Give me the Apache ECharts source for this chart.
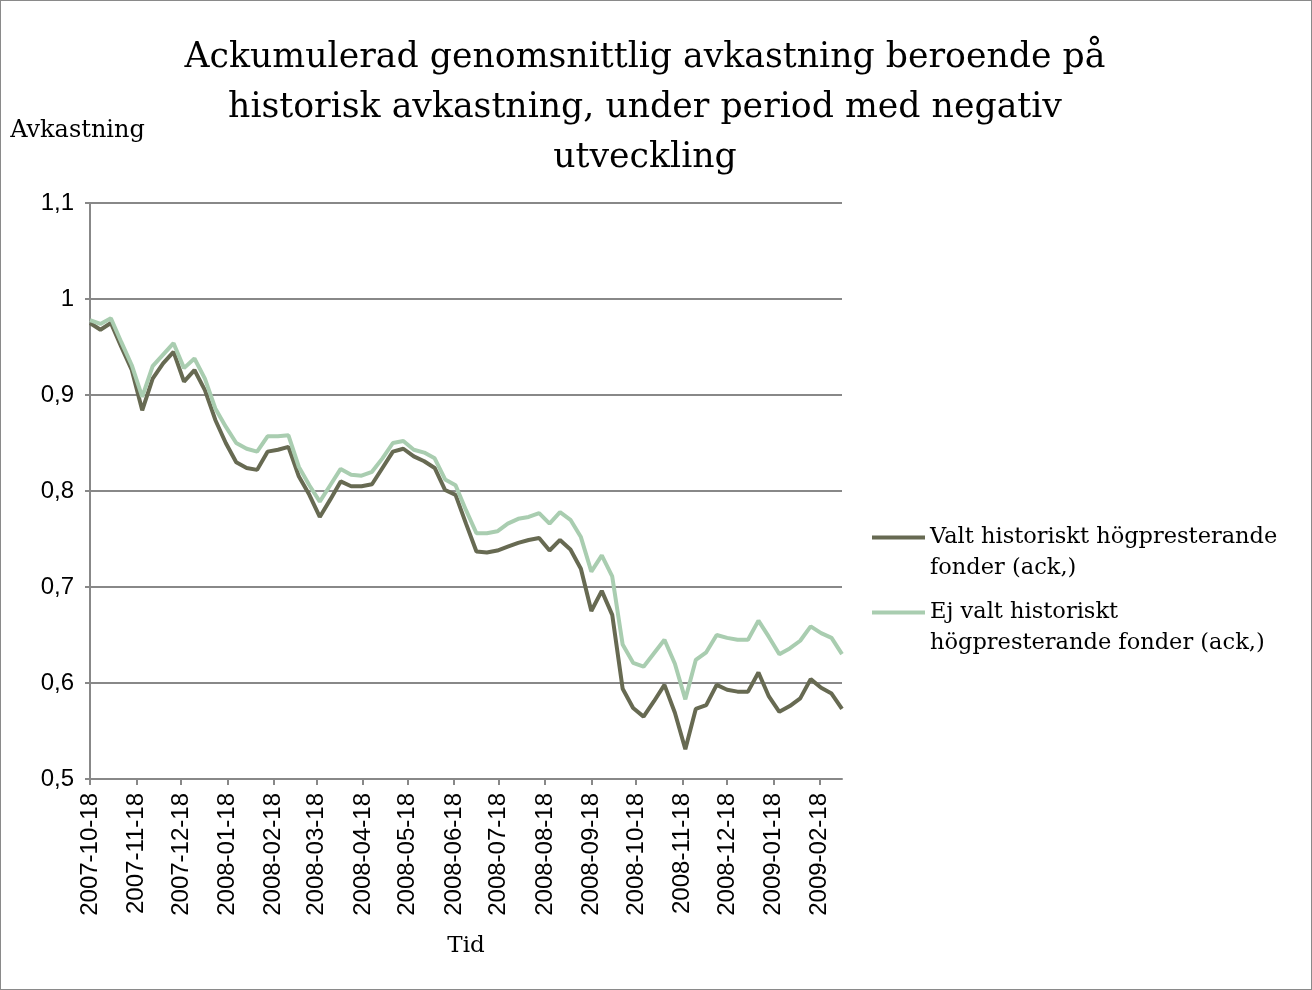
<!DOCTYPE html>
<html>
<head>
<meta charset="utf-8">
<title>Ackumulerad genomsnittlig avkastning</title>
<script src="https://cdn.jsdelivr.net/npm/echarts@6/dist/echarts.min.js"></script>
<style>
  html, body { margin: 0; padding: 0; background: #ffffff; }
  #chart { width: 1312px; height: 990px; box-sizing: border-box; border: 1px solid #8a8a8a; background: #ffffff; }
</style>
</head>
<body>
<div id="chart"></div>
<script>
// Weekly observation dates (Thursdays)
const dates = [
  '2007-10-18','2007-10-25','2007-11-01','2007-11-08','2007-11-15','2007-11-22','2007-11-29',
  '2007-12-06','2007-12-13','2007-12-20','2007-12-27',
  '2008-01-03','2008-01-10','2008-01-17','2008-01-24','2008-01-31',
  '2008-02-07','2008-02-14','2008-02-21','2008-02-28',
  '2008-03-06','2008-03-13','2008-03-20','2008-03-27',
  '2008-04-03','2008-04-10','2008-04-17','2008-04-24',
  '2008-05-01','2008-05-08','2008-05-15','2008-05-22','2008-05-29',
  '2008-06-05','2008-06-12','2008-06-19','2008-06-26',
  '2008-07-03','2008-07-10','2008-07-17','2008-07-24','2008-07-31',
  '2008-08-07','2008-08-14','2008-08-21','2008-08-28',
  '2008-09-04','2008-09-11','2008-09-18','2008-09-25',
  '2008-10-02','2008-10-09','2008-10-16','2008-10-23','2008-10-30',
  '2008-11-06','2008-11-13','2008-11-20','2008-11-27',
  '2008-12-04','2008-12-11','2008-12-18','2008-12-25',
  '2009-01-01','2009-01-08','2009-01-15','2009-01-22','2009-01-29',
  '2009-02-05','2009-02-12','2009-02-19','2009-02-26',
  '2009-03-05'
];

// Accumulated average return, funds chosen as historically high performing
const valtHog = [
  0.975, 0.968, 0.975, 0.950, 0.926, 0.884, 0.917, 0.933, 0.945, 0.914, 0.926,
  0.905, 0.874, 0.850, 0.830, 0.824, 0.822, 0.841, 0.843, 0.846,
  0.815, 0.796, 0.773, 0.791, 0.810, 0.805, 0.805, 0.807,
  0.824, 0.841, 0.844, 0.836, 0.831, 0.824, 0.801, 0.796, 0.766,
  0.737, 0.736, 0.738, 0.742, 0.746, 0.749, 0.751, 0.738, 0.749,
  0.739, 0.719, 0.675, 0.696, 0.671, 0.594, 0.574, 0.565, 0.581,
  0.598, 0.569, 0.531, 0.573, 0.577, 0.598, 0.593, 0.591,
  0.591, 0.611, 0.586, 0.570, 0.576, 0.584, 0.604, 0.595, 0.589,
  0.573
];

// Accumulated average return, funds not chosen as historically high performing
const ejValtHog = [
  0.978, 0.974, 0.980, 0.955, 0.931, 0.898, 0.930, 0.942, 0.954, 0.928, 0.938,
  0.917, 0.886, 0.867, 0.850, 0.844, 0.841, 0.857, 0.857, 0.858,
  0.825, 0.806, 0.789, 0.806, 0.823, 0.817, 0.816, 0.820,
  0.834, 0.850, 0.852, 0.843, 0.840, 0.834, 0.812, 0.806, 0.780,
  0.756, 0.756, 0.758, 0.766, 0.771, 0.773, 0.777, 0.766, 0.778,
  0.770, 0.752, 0.716, 0.733, 0.711, 0.640, 0.621, 0.617, 0.631,
  0.645, 0.620, 0.583, 0.624, 0.632, 0.650, 0.647, 0.645,
  0.645, 0.665, 0.648, 0.630, 0.636, 0.644, 0.659, 0.652, 0.647,
  0.630
];

// Monthly tick labels on the date axis
const tickLabels = [
  '2007-10-18','2007-11-18','2007-12-18','2008-01-18','2008-02-18','2008-03-18',
  '2008-04-18','2008-05-18','2008-06-18','2008-07-18','2008-08-18','2008-09-18',
  '2008-10-18','2008-11-18','2008-12-18','2009-01-18','2009-02-18'
];

const seriesNames = [
  'Valt historiskt högpresterande\nfonder (ack,)',
  'Ej valt historiskt\nhögpresterande fonder (ack,)'
];

// The x axis counts whole days from the first observation date
const DAY = 86400000;
function dayNumber(s) {
  const p = s.split('-').map(Number);
  return Math.round(Date.UTC(p[0], p[1] - 1, p[2]) / DAY);
}
const day0 = dayNumber(dates[0]);
function dayOffset(s) { return dayNumber(s) - day0; }

const tickDays = tickLabels.map(dayOffset);
const labelByDay = {};
tickLabels.forEach(function (s, i) { labelByDay[tickDays[i]] = s; });

function pairs(values) {
  return dates.map(function (d, i) { return [dayOffset(d), values[i]]; });
}

const gridColor = '#888888';
const serif = '"DejaVu Serif", "Liberation Serif", serif';
const sans = '"Liberation Sans", Arial, sans-serif';

const chart = echarts.init(document.getElementById('chart'), null, { renderer: 'canvas' });

chart.setOption({
  animation: false,
  backgroundColor: '#ffffff',
  title: {
    text: 'Ackumulerad genomsnittlig avkastning beroende på\nhistorisk avkastning, under period med negativ\nutveckling',
    left: 644,
    top: 32,
    padding: 0,
    textAlign: 'center',
    textStyle: {
      fontFamily: serif,
      fontWeight: 'normal',
      fontSize: 34.7,
      lineHeight: 50,
      color: '#000000'
    }
  },
  legend: {
    orient: 'vertical',
    left: 871,
    top: 490,
    padding: 0,
    itemGap: -18,
    itemWidth: 53,
    itemHeight: 4,
    icon: 'rect',
    selectedMode: false,
    // a blank first line keeps the marker level with the first text line
    formatter: function (name) { return ' \n' + name; },
    textStyle: {
      fontFamily: serif,
      fontSize: 22.5,
      lineHeight: 31,
      color: '#000000'
    },
    data: seriesNames
  },
  grid: {
    left: 89,
    top: 202,
    right: 469,
    bottom: 210,
    containLabel: false
  },
  xAxis: {
    type: 'value',
    min: 0,
    max: dayOffset(dates[dates.length - 1]),
    name: 'Tid',
    nameLocation: 'middle',
    nameGap: 156,
    nameTextStyle: { fontFamily: serif, fontSize: 23, color: '#000000' },
    axisLine: { show: true, lineStyle: { color: gridColor, width: 2 } },
    axisTick: {
      show: true,
      customValues: tickDays,
      length: 6,
      inside: false,
      lineStyle: { color: gridColor, width: 2 }
    },
    axisLabel: {
      customValues: tickDays,
      rotate: 90,
      margin: 14,
      fontFamily: sans,
      fontSize: 24,
      color: '#000000',
      hideOverlap: false,
      showMinLabel: true,
      showMaxLabel: true,
      formatter: function (v) { return labelByDay[v] || ''; }
    },
    splitLine: { show: false }
  },
  yAxis: {
    type: 'value',
    min: 0.5,
    max: 1.1,
    interval: 0.1,
    name: 'Avkastning',
    nameLocation: 'end',
    nameGap: 60,
    nameTextStyle: {
      fontFamily: serif,
      fontSize: 24,
      color: '#000000',
      align: 'center',
      padding: [0, 25, 0, 0]
    },
    axisLine: { show: true, lineStyle: { color: gridColor, width: 2 } },
    axisTick: { show: true, length: 5, lineStyle: { color: gridColor, width: 2 } },
    axisLabel: {
      margin: 16,
      fontFamily: sans,
      fontSize: 24,
      color: '#000000',
      formatter: function (v) { return String(+v.toFixed(1)).replace('.', ','); }
    },
    splitLine: { show: true, lineStyle: { color: gridColor, width: 2 } }
  },
  series: [
    {
      name: seriesNames[0],
      type: 'line',
      data: pairs(valtHog),
      symbol: 'none',
      showSymbol: false,
      lineStyle: { color: '#676a52', width: 4 },
      itemStyle: { color: '#676a52' }
    },
    {
      name: seriesNames[1],
      type: 'line',
      data: pairs(ejValtHog),
      symbol: 'none',
      showSymbol: false,
      lineStyle: { color: '#a9cdb0', width: 4 },
      itemStyle: { color: '#a9cdb0' }
    }
  ]
});
</script>
</body>
</html>
